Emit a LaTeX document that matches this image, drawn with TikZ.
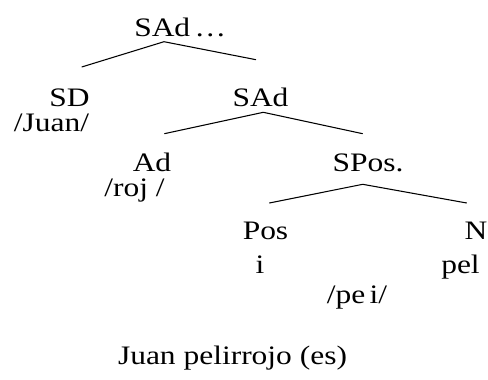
\documentclass[tikz,border=0pt]{standalone}
\usepackage{fontspec}
\setmainfont[FakeStretch=1.18]{Liberation Serif}
\usepackage{tikz}
\usetikzlibrary{positioning}

\begin{document}
\begin{tikzpicture}[
  x=0.75pt, y=-0.75pt,
  cat/.style={inner sep=0pt, anchor=base, text height=0.7em, text depth=0pt,
              font=\fontsize{20}{24}\selectfont},
  form/.style={cat, text depth=0.2em},
  branch/.style={line width=0.8pt, black}
]
\useasboundingbox (0,0) rectangle (488,379);
% categories
\node[cat, anchor=base west] (top) at (134,36.7) {SAd\,…};
\node[cat] (sd) at (69.5,106) {SD};
\node[cat] (sad) at (260.5,106) {SAd};
\node[cat] (ad) at (152,171.7) {Ad};
\node[cat] (spos) at (368,171.7) {SPos.};
\node[cat] (pos) at (265.5,239) {Pos};
\node[cat] (n) at (476,239) {N};
% forms
\node[form] (juan) at (51.5,131) {/Juan/};
\node[form] (roj) at (134.5,196.7) {/roj /};
\node[form] (i) at (260,273) {i};
\node[form] (pel) at (460.5,273) {pel};
\node[form] (pei) at (357,303) {/pe\,i/};
\node[form] (gloss) at (232.5,364) {Juan pelirrojo (es)};
% branches
\draw[branch] ([shift={(12.2,-39)}]sd.base) -- ([shift={(30,5)}]top.base west)
  -- ([shift={(-4.5,-46.3)}]sad.base);
\draw[branch] ([shift={(12.3,-38)}]ad.base) -- ([shift={(2.8,6.3)}]sad.base)
  -- ([shift={(-5.3,-38)}]spos.base);
\draw[branch] ([shift={(3.8,-36)}]pos.base) -- ([shift={(-5.3,12.6)}]spos.base)
  -- ([shift={(-9.3,-36)}]n.base);
\end{tikzpicture}
\end{document}
